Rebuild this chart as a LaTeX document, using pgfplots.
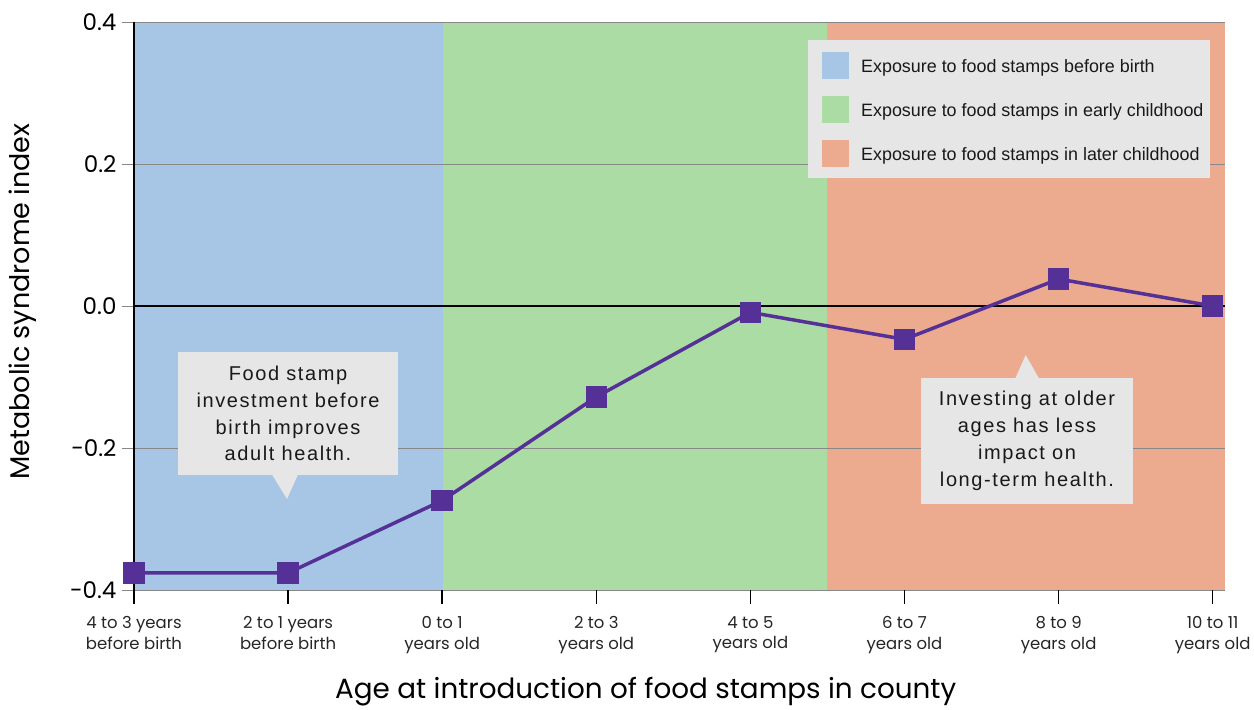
\documentclass[border=0pt]{standalone}
\usepackage{pgfplots}
\pgfplotsset{compat=1.18}
\usepackage{fontspec}
\newfontfamily\pop{Poppins}
\newfontfamily\lib[LetterSpace=8]{Liberation Sans}
\newfontfamily\libn{Liberation Sans}
\definecolor{blueC}{RGB}{167,198,229}
\definecolor{greenC}{RGB}{171,220,163}
\definecolor{redC}{RGB}{236,171,142}
\definecolor{purp}{RGB}{85,48,150}
\definecolor{boxgray}{RGB}{230,230,230}
\definecolor{gridgray}{RGB}{136,136,136}
\begin{document}
\begin{tikzpicture}
\begin{axis}[
  set layers,
  scale only axis,
  width=1091pt, height=568pt,
  xmin=0, xmax=7.08, ymin=-0.4, ymax=0.4,
  clip=false,
  axis lines*=left,
  x axis line style={draw=none},
  y axis line style={draw=none},
  major tick length=0pt,
  xtick={0,1,2,3,4,5,6,7},
  xticklabels={{4 to 3 years\\before birth},{2 to 1 years\\before birth},{0 to 1\\years old},{2 to 3\\years old},{4 to 5\\years old},{6 to 7\\years old},{8 to 9\\years old},{10 to 11\\years old}},
  xticklabel style={align=center, font=\pop\fontsize{16.5}{20.5}\selectfont, text=black!85, anchor=north, yshift=-23pt},
  ytick={-0.4,-0.2,0,0.2,0.4},
  yticklabel style={font=\pop\fontsize{23}{25}\selectfont, text=black, anchor=east, xshift=-14pt},
  /pgf/number format/assume math mode=true,
  /pgf/number format/.cd, fixed, fixed zerofill, precision=1, /pgfplots/.cd,
  ymajorgrids,
  grid style={gridgray, line width=0.8pt},
  xlabel={Age at introduction of food stamps in county},
  ylabel={Metabolic syndrome index},
  xlabel style={at={(axis description cs:0.469,-0.1796)}, anchor=center, font=\pop\fontsize{27.8}{30}\selectfont},
  ylabel style={at={(axis description cs:-0.1017,0.508)}, anchor=center, rotate=0, font=\pop\fontsize{27}{30}\selectfont},
]
\pgfonlayer{axis background}
\fill[blueC] (axis cs:0,-0.4) rectangle (axis cs:2.006,0.4);
\fill[greenC] (axis cs:2.006,-0.4) rectangle (axis cs:4.5,0.4);
\fill[redC] (axis cs:4.5,-0.4) rectangle (axis cs:7.08,0.4);
\endpgfonlayer
\pgfonlayer{axis ticks}
\draw[black, line width=1.5pt] (axis cs:0,0) -- (axis cs:7.08,0);
\draw[gridgray, line width=0.8pt] (axis cs:-0.078,-0.4) -- (axis cs:0,-0.4);
\draw[gridgray, line width=0.8pt] (axis cs:-0.078,-0.2) -- (axis cs:0,-0.2);
\draw[gridgray, line width=0.8pt] (axis cs:-0.078,0) -- (axis cs:0,0);
\draw[gridgray, line width=0.8pt] (axis cs:-0.078,0.2) -- (axis cs:0,0.2);
\draw[gridgray, line width=0.8pt] (axis cs:-0.078,0.4) -- (axis cs:0,0.4);
\endpgfonlayer
\pgfonlayer{axis lines}
\draw[black, line width=1.6pt] (axis cs:0,-0.4197) -- (axis cs:0,0.4);
\draw[black, line width=1.5pt] (axis cs:1,-0.4197) -- (axis cs:1,-0.4);
\draw[black, line width=1.5pt] (axis cs:2,-0.4197) -- (axis cs:2,-0.4);
\draw[black, line width=1.5pt] (axis cs:3,-0.4197) -- (axis cs:3,-0.4);
\draw[black, line width=1.5pt] (axis cs:4,-0.4197) -- (axis cs:4,-0.4);
\draw[black, line width=1.5pt] (axis cs:5,-0.4197) -- (axis cs:5,-0.4);
\draw[black, line width=1.5pt] (axis cs:6,-0.4197) -- (axis cs:6,-0.4);
\draw[black, line width=1.5pt] (axis cs:7,-0.4197) -- (axis cs:7,-0.4);
\endpgfonlayer
\addplot[color=purp, line width=3.5pt, mark=square*, mark size=9pt, mark options={fill=purp, draw=none}]
 coordinates {(0,-0.376)(1,-0.376)(2,-0.274)(3,-0.128)(4,-0.009)(5,-0.047)(6,0.038)(7,0)};
\end{axis}
% legend
\fill[boxgray] (674pt,550pt) rectangle (1076pt,412pt);
\fill[blueC] (688pt,510.5pt) rectangle (715pt,537.5pt);
\fill[greenC] (688pt,466.5pt) rectangle (715pt,493.5pt);
\fill[redC] (688pt,422.5pt) rectangle (715pt,449.5pt);
\node[anchor=west, inner sep=0pt, font=\libn\fontsize{17.9}{20}\selectfont, text=black!90] at (727pt,522pt) {Exposure to food stamps before birth};
\node[anchor=west, inner sep=0pt, font=\libn\fontsize{17.9}{20}\selectfont, text=black!90] at (727pt,478pt) {Exposure to food stamps in early childhood};
\node[anchor=west, inner sep=0pt, font=\libn\fontsize{17.9}{20}\selectfont, text=black!90] at (727pt,434pt) {Exposure to food stamps in later childhood};
% callout 1
\fill[boxgray] (44pt,238pt) rectangle (264pt,115pt);
\fill[boxgray] (138pt,115.5pt) -- (164pt,115.5pt) -- (153pt,91pt) -- cycle;
\node[align=center, inner sep=0pt, font=\lib\fontsize{20}{26.8}\selectfont, text=black!90] at (154pt,176.5pt) {Food stamp\\investment before\\birth improves\\adult health.};
% callout 2
\fill[boxgray] (786.7pt,211.7pt) rectangle (999.3pt,86pt);
\fill[boxgray] (881pt,211pt) -- (905.3pt,211pt) -- (891.7pt,235pt) -- cycle;
\node[align=center, inner sep=0pt, font=\lib\fontsize{20}{26.8}\selectfont, text=black!90] at (893pt,149pt) {Investing at older\\ages has less\\impact on\\long-term health.};
\pgfresetboundingbox
\path[use as bounding box] (-134pt,-120pt) rectangle (1120pt,590pt);
\end{tikzpicture}
\end{document}
